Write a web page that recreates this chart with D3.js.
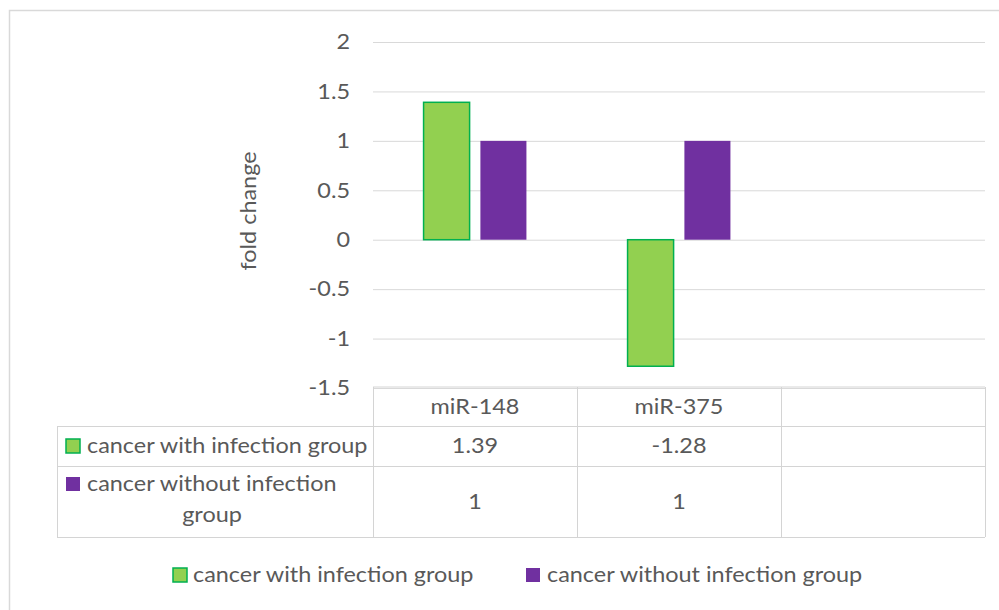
<!DOCTYPE html>
<html>
<head>
<meta charset="utf-8">
<script src="https://cdn.jsdelivr.net/npm/d3@7"></script>
<style>
  html, body { margin: 0; padding: 0; background: #ffffff; }
  svg { display: block; }
  text { font-family: Lato, "Open Sans", sans-serif; fill: #595959; }
</style>
</head>
<body>
<svg id="chart" width="999" height="610"></svg>
<script>
// Chart data
const categories = ["miR-148", "miR-375", ""];
const seriesNames = ["cancer with infection group", "cancer without infection group"];
const withInfection = [1.39, -1.28, null];
const withoutInfection = [1, 1, null];
const yTicks = [2, 1.5, 1, 0.5, 0, -0.5, -1, -1.5];
const yTickLabels = ["2", "1.5", "1", "0.5", "0", "-0.5", "-1", "-1.5"];
const tableValues = [["1.39", "-1.28", ""], ["1", "1", ""]];
const yTitle = "fold change";

// Styling
const fills = ["#92D050", "#7030A0"];
const strokes = ["#00B050", "none"];
const gridColor = "#d9d9d9";
const tableColor = "#d4d4d4";
const fontSize = 21;
const stretch = 1.115;

const svg = d3.select("#chart");

// chart area frame
svg.append("rect")
  .attr("x", 9.5).attr("y", 10.5)
  .attr("width", 1100).attr("height", 800)
  .attr("fill", "#ffffff")
  .attr("stroke", gridColor).attr("stroke-width", 1.5);

const plot = { left: 373, right: 985, top: 42, bottom: 388 };

const x = d3.scaleBand().domain(categories).range([plot.left, plot.right]);
const xSub = d3.scaleBand().domain([0, 1])
  .range([0, x.bandwidth()]).paddingInner(0.19).paddingOuter(0.89);
const y = d3.scaleLinear().domain([-1.5, 2]).range([plot.bottom, plot.top]);

// helper for horizontally widened text
function label(g, tx, ty, str, anchor, rot) {
  return g.append("text")
    .attr("transform", `translate(${tx},${ty})` + (rot ? ` rotate(${rot})` : "") + ` scale(${stretch},1)`)
    .attr("text-anchor", anchor || "start")
    .attr("dy", "0.35em")
    .style("font-size", fontSize + "px")
    .text(str);
}

// value axis with gridlines
const yAxis = d3.axisLeft(y)
  .tickValues(yTicks)
  .tickFormat((d, i) => yTickLabels[i])
  .tickSize(-(plot.right - plot.left))
  .tickPadding(23);

const axisG = svg.append("g")
  .attr("transform", `translate(${plot.left},0)`)
  .call(yAxis);
axisG.select(".domain").remove();
axisG.selectAll(".tick line").attr("stroke", gridColor).attr("stroke-width", 1);
axisG.selectAll(".tick text").each(function () {
  const t = d3.select(this);
  const tx = +t.attr("x");
  t.attr("x", 0)
   .attr("transform", `translate(${tx},0) scale(${stretch},1)`)
   .attr("fill", "#595959")
   .style("font-size", fontSize + "px")
   .style("font-family", "Lato, 'Open Sans', sans-serif");
});

// axis title
label(svg, 249, 211, yTitle, "middle", -90);

// bars
const seriesValues = [withInfection, withoutInfection];
seriesValues.forEach((vals, s) => {
  svg.append("g").selectAll("rect")
    .data(categories.map((c, i) => ({ c, v: vals[i] })).filter(d => d.v !== null))
    .join("rect")
    .attr("x", d => x(d.c) + xSub(s))
    .attr("width", xSub.bandwidth())
    .attr("y", d => y(Math.max(0, d.v)))
    .attr("height", d => Math.abs(y(d.v) - y(0)))
    .attr("fill", fills[s])
    .attr("stroke", strokes[s])
    .attr("stroke-width", 1.5);
});

// data table
const tbl = { left: 57, header: 387, row1: 426, row2: 466, bottom: 537 };
const tg = svg.append("g").attr("stroke", tableColor).attr("stroke-width", 1).attr("fill", "none");
tg.append("line").attr("x1", plot.left).attr("x2", plot.right).attr("y1", tbl.header).attr("y2", tbl.header);
[tbl.row1, tbl.row2, tbl.bottom].forEach(yy =>
  tg.append("line").attr("x1", tbl.left).attr("x2", plot.right).attr("y1", yy + 0.5).attr("y2", yy + 0.5));
tg.append("line").attr("x1", tbl.left + 0.5).attr("x2", tbl.left + 0.5).attr("y1", tbl.row1).attr("y2", tbl.bottom);
categories.forEach(c => {
  tg.append("line").attr("x1", x(c) + 0.5).attr("x2", x(c) + 0.5).attr("y1", tbl.header).attr("y2", tbl.bottom);
});
tg.append("line").attr("x1", plot.right + 0.5).attr("x2", plot.right + 0.5).attr("y1", tbl.header).attr("y2", tbl.bottom);

// header row: category names
categories.forEach(c => {
  label(svg, x(c) + x.bandwidth() / 2, (tbl.header + tbl.row1) / 2, c, "middle");
});
// value rows
const rowMid = [(tbl.row1 + tbl.row2) / 2, (tbl.row2 + tbl.bottom) / 2];
tableValues.forEach((row, r) => {
  row.forEach((v, i) => {
    if (v !== "") label(svg, x(categories[i]) + x.bandwidth() / 2, rowMid[r], v, "middle");
  });
});

// row headers with legend keys
function key(g, kx, ky, s) {
  g.append("rect")
    .attr("x", kx).attr("y", ky).attr("width", 14).attr("height", 14)
    .attr("fill", fills[s])
    .attr("stroke", strokes[s])
    .attr("stroke-width", 1.5);
}
key(svg, 66, rowMid[0] - 7, 0);
label(svg, 87, rowMid[0], seriesNames[0], "start");
key(svg, 66, 477, 1);
label(svg, 87, 484, "cancer without infection", "start");
label(svg, 212, 515, "group", "middle");

// bottom legend
const legendY = 575;
key(svg, 173, legendY - 7, 0);
label(svg, 193, legendY, seriesNames[0], "start");
key(svg, 526, legendY - 7, 1);
label(svg, 547, legendY, seriesNames[1], "start");
</script>
</body>
</html>
